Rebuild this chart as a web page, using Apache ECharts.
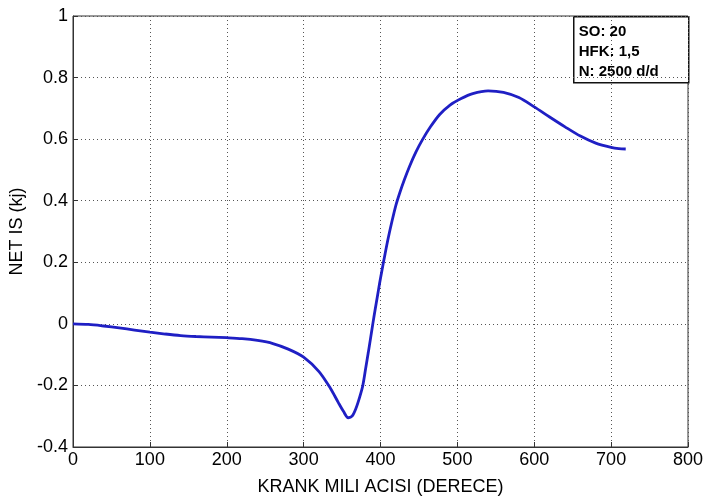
<!DOCTYPE html>
<html>
<head>
<meta charset="utf-8">
<script src="https://cdn.jsdelivr.net/npm/echarts@6/dist/echarts.min.js"></script>
<style>html,body{margin:0;padding:0;background:#fff;}#c{width:706px;height:497px;}</style>
</head>
<body>
<div id="c"></div>
<script>
const crankAngle = [0,20,40,60,80,100,120,140,160,180,200,220,240,260,280,300,320,335,345,352,358,363,368,373,377,381,384,387,390,393,396,399,402,406,410,415,420,425,431,438,446,455,465,477,490,505,520,540,560,580,600,620,640,660,680,700,710,719];
const netWork = [0,-0.002,-0.007,-0.013,-0.02,-0.027,-0.033,-0.038,-0.041,-0.043,-0.045,-0.048,-0.054,-0.064,-0.082,-0.108,-0.155,-0.21,-0.255,-0.285,-0.305,-0.3,-0.275,-0.237,-0.2,-0.14,-0.095,-0.048,0,0.046,0.09,0.134,0.175,0.228,0.278,0.334,0.385,0.425,0.468,0.513,0.558,0.6,0.64,0.68,0.71,0.732,0.748,0.757,0.752,0.735,0.705,0.672,0.64,0.61,0.587,0.573,0.569,0.568];
const xTicks = [0,100,200,300,400,500,600,700,800];
const yTicks = [-0.4,-0.2,0,0.2,0.4,0.6,0.8,1];
const legendLines = ['SO: 20','HFK: 1,5','N: 2500 d/d'];
const xTitle = 'KRANK MILI ACISI (DERECE)';
const yTitle = 'NET IS (kj)';

const chart = echarts.init(document.getElementById('c'));
const font = 'Arial, "Liberation Sans", sans-serif';
chart.setOption({
  animation: false,
  grid: {left: 73, top: 16, width: 615, height: 431, show: true, borderColor: '#333', borderWidth: 1, backgroundColor: '#fff', containLabel: false, outerBoundsMode: 'none'},
  xAxis: {
    type: 'value', min: 0, max: 800, interval: 100,
    name: xTitle, nameLocation: 'middle', nameGap: 31,
    nameTextStyle: {fontFamily: font, fontSize: 18, color: '#000'},
    axisLine: {show: true, onZero: false, lineStyle: {color: '#333', width: 1}},
    axisTick: {show: true, inside: true, length: 5, lineStyle: {color: '#333'}},
    axisLabel: {fontFamily: font, fontSize: 18, color: '#000', margin: 4,
      formatter: v => xTicks.includes(v) ? String(v) : ''},
    splitLine: {show: true, lineStyle: {color: '#555', type: [1, 3], width: 1}}
  },
  yAxis: {
    type: 'value', min: -0.4, max: 1, interval: 0.2,
    name: yTitle, nameLocation: 'middle', nameGap: 47, nameRotate: 90,
    nameTextStyle: {fontFamily: font, fontSize: 18, color: '#000'},
    axisLine: {show: true, onZero: false, lineStyle: {color: '#333', width: 1}},
    axisTick: {show: true, inside: true, length: 5, lineStyle: {color: '#333'}},
    axisLabel: {fontFamily: font, fontSize: 18, color: '#000', margin: 5,
      formatter: v => { const r = Math.round(v * 10) / 10; return yTicks.includes(r) ? String(r) : ''; }},
    splitLine: {show: true, lineStyle: {color: '#555', type: [1, 3], width: 1}}
  },
  series: [{
    type: 'line', showSymbol: false, smooth: 0.3,
    data: crankAngle.map((x, i) => [x, netWork[i]]),
    lineStyle: {color: '#1f1fc4', width: 2.8}
  }],
  graphic: [{
    type: 'group', left: 573, top: 16,
    children: [
      {type: 'rect', shape: {x: 0, y: 0, width: 115, height: 66}, style: {fill: '#fff', stroke: '#111', lineWidth: 1.5}},
      {type: 'text', x: 5, y: 5, style: {text: legendLines.join('\n'), font: 'bold 15px ' + font, lineHeight: 20, fill: '#000'}}
    ]
  }]
});
</script>
</body>
</html>
